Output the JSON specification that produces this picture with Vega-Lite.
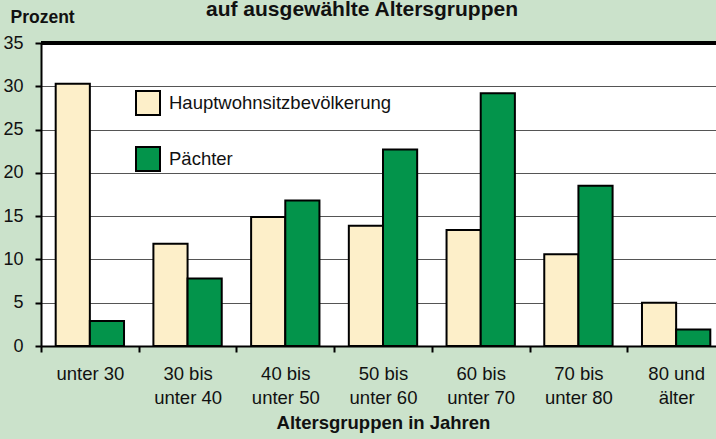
{
  "$schema": "https://vega.github.io/schema/vega-lite/v6.json",
  "autosize": "none",
  "width": 684,
  "height": 303,
  "padding": {"left": 41, "top": 43, "right": 0, "bottom": 93},
  "background": "#cbe2cb",
  "title": {
    "text": "auf ausgewählte Altersgruppen",
    "anchor": "middle",
    "dx": -21,
    "offset": -12,
    "font": "Liberation Sans",
    "fontSize": 21,
    "fontWeight": "bold",
    "color": "#111111"
  },
  "config": {
    "view": {"fill": "white", "stroke": null},
    "font": "Liberation Sans"
  },
  "data": {
    "values": [
      {"gruppe": "unter 30", "serie": "Hauptwohnsitzbevölkerung", "wert": 30.3},
      {"gruppe": "unter 30", "serie": "Pächter", "wert": 2.9},
      {"gruppe": "30 bis|unter 40", "serie": "Hauptwohnsitzbevölkerung", "wert": 11.8},
      {"gruppe": "30 bis|unter 40", "serie": "Pächter", "wert": 7.8},
      {"gruppe": "40 bis|unter 50", "serie": "Hauptwohnsitzbevölkerung", "wert": 14.9},
      {"gruppe": "40 bis|unter 50", "serie": "Pächter", "wert": 16.8},
      {"gruppe": "50 bis|unter 60", "serie": "Hauptwohnsitzbevölkerung", "wert": 13.9},
      {"gruppe": "50 bis|unter 60", "serie": "Pächter", "wert": 22.7},
      {"gruppe": "60 bis|unter 70", "serie": "Hauptwohnsitzbevölkerung", "wert": 13.4},
      {"gruppe": "60 bis|unter 70", "serie": "Pächter", "wert": 29.2},
      {"gruppe": "70 bis|unter 80", "serie": "Hauptwohnsitzbevölkerung", "wert": 10.6},
      {"gruppe": "70 bis|unter 80", "serie": "Pächter", "wert": 18.5},
      {"gruppe": "80 und|älter", "serie": "Hauptwohnsitzbevölkerung", "wert": 5.0},
      {"gruppe": "80 und|älter", "serie": "Pächter", "wert": 1.9}
    ]
  },
  "layer": [
    {
      "mark": {"type": "bar", "stroke": "black", "strokeWidth": 2},
      "encoding": {
        "x": {
          "field": "gruppe",
          "type": "nominal",
          "sort": null,
          "scale": {"paddingInner": 0, "paddingOuter": 0},
          "axis": {
            "title": "Altersgruppen in Jahren",
            "titleFont": "Liberation Sans",
            "titleFontSize": 18.5,
            "titleFontWeight": "bold",
            "titleColor": "#111111",
            "titlePadding": 6,
            "labelAngle": 0,
            "labelExpr": "split(datum.label, '|')",
            "labelFont": "Liberation Sans",
            "labelFontSize": 18.5,
            "labelColor": "#111111",
            "labelLineHeight": 24.5,
            "labelPadding": 12,
            "tickBand": "extent",
            "tickColor": "black",
            "tickWidth": 2,
            "tickSize": 6,
            "domainColor": "black",
            "domainWidth": 2,
            "grid": false
          }
        },
        "xOffset": {
          "field": "serie",
          "type": "nominal",
          "scale": {"paddingInner": 0, "paddingOuter": 0.43}
        },
        "y": {
          "field": "wert",
          "type": "quantitative",
          "scale": {"domain": [0, 35], "nice": false},
          "axis": {
            "values": [0, 5, 10, 15, 20, 25, 30, 35],
            "title": "Prozent",
            "titleAngle": 0,
            "titleAlign": "left",
            "titleBaseline": "alphabetic",
            "titleX": -31,
            "titleY": -21,
            "titleFont": "Liberation Sans",
            "titleFontSize": 17.5,
            "titleFontWeight": "bold",
            "titleColor": "#111111",
            "labelFont": "Liberation Sans",
            "labelFontSize": 18,
            "labelColor": "#111111",
            "labelPadding": 12,
            "tickColor": "black",
            "tickWidth": 2,
            "tickSize": 6,
            "domainColor": "black",
            "domainWidth": 2,
            "grid": true,
            "gridColor": "#555555",
            "gridWidth": 1
          }
        },
        "color": {
          "field": "serie",
          "type": "nominal",
          "scale": {"domain": ["Hauptwohnsitzbevölkerung", "Pächter"], "range": ["#fdefc9", "#03944b"]},
          "legend": {
            "title": null,
            "orient": "none",
            "legendX": 94,
            "legendY": 47,
            "padding": 0,
            "symbolType": "square",
            "symbolSize": 576,
            "symbolStrokeColor": "black",
            "symbolStrokeWidth": 2,
            "symbolOpacity": 1,
            "labelFont": "Liberation Sans",
            "labelFontSize": 18.5,
            "labelColor": "#111111",
            "labelOffset": 8,
            "labelLimit": 0,
            "rowPadding": 24
          }
        }
      }
    },
    {
      "mark": {"type": "rule", "color": "black", "strokeWidth": 3},
      "encoding": {"y": {"datum": 35}}
    }
  ]
}
